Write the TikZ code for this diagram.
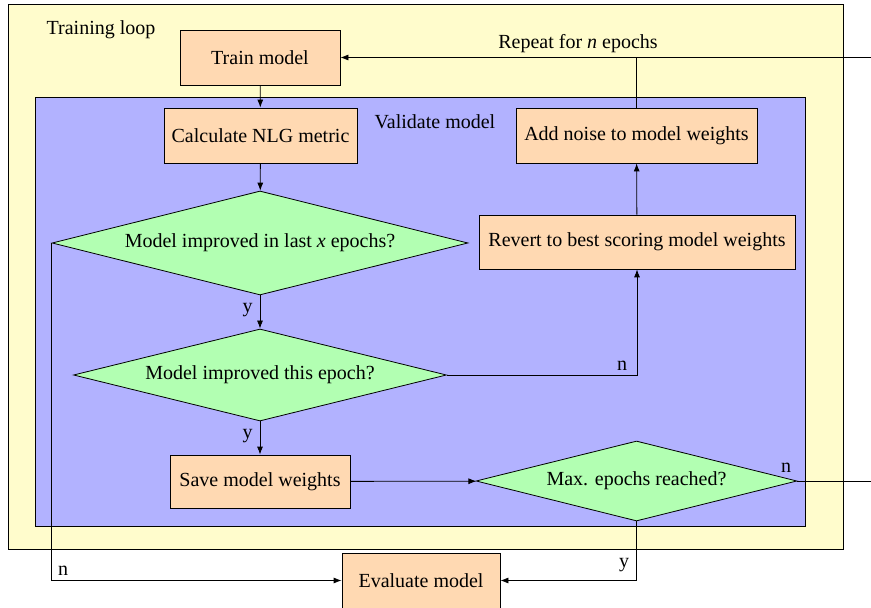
\documentclass[tikz,border=0pt]{standalone}
\usepackage{fontspec}
\setmainfont{Liberation Serif}
\usetikzlibrary{shapes.geometric,arrows.meta}
\begin{document}
\begin{tikzpicture}[x=0.5pt,y=-0.5pt,
  box/.style={draw, fill=orange!30, inner sep=0pt, minimum width=#1, minimum height=27.5pt, align=center},
  dec/.style={draw, fill=green!30, shape=diamond, aspect=4, inner sep=0pt},
  line/.style={draw, line width=0.4pt},
  arr/.style={line, -{Latex[length=4pt,width=3pt]}},
  lbl/.style={inner sep=1pt}]
\useasboundingbox (0,0) rectangle (871,608);
% containers
\path[draw, fill=yellow!20] (8,4) rectangle (843.5,549.5);
\path[draw, fill=blue!30] (35,97) rectangle (805,526);
\node[lbl] (tl) at (101,30) {Training loop};
\node[lbl] (vm) at (435,122) {Validate model};
% nodes
\node[box=80pt] (train) at (260,57.5) {Train model};
\node[box=96.5pt] (calc) at (260.5,135.5) {Calculate NLG metric};
\node[dec, minimum width=208pt, minimum height=52pt] (d1) at (260,243) {Model improved in last \textit{x} epochs?};
\node[dec, minimum width=186.5pt, minimum height=46pt] (d2) at (260,375) {Model improved this epoch?};
\node[box=90pt, minimum height=26.5pt] (save) at (260,481.5) {Save model weights};
\node[dec, minimum width=160.5pt, minimum height=40pt] (d3) at (636.5,481) {Max. epochs reached?};
\node[box=158pt, minimum height=27pt] (revert) at (637,242) {Revert to best scoring model weights};
\node[box=120.5pt] (noise) at (636.5,135.5) {Add noise to model weights};
\node[box=79pt] (eval) at (421,580.5) {Evaluate model};
\node[lbl] (rep) at (578,44) {Repeat for \textit{n} epochs};
% free ends
\coordinate (eR) at (871,57.5);
\coordinate (eD) at (871,481);
% connectors
\draw[arr] (train) -- (calc);
\draw[arr] (calc) -- (d1);
\draw[arr] (d1) -- node[lbl, left=2.5pt, pos=0.45] {y} (d2);
\draw[arr] (d2) -- node[lbl, left=2.5pt, pos=0.45] {y} (save);
\draw[arr] (save) -- (d3);
\draw[arr] (d2.east) -| node[lbl, above left, pos=0.48, yshift=1pt] {n} (revert.south);
\draw[arr] (revert) -- (noise);
\draw[arr] (noise.north) |- (train.east);
\draw[line] (eR) -- (noise.north |- eR);
\draw[line] (d3.east) -- (eD);
\node[lbl] at (786,468) {n};
\draw[arr] (d1.west) |- node[lbl, above right, pos=0.5, xshift=2pt, yshift=1.5pt] {n} (eval.west);
\draw[arr] (d3.south) |- node[lbl, above left, pos=0.5, xshift=-2.5pt, yshift=3pt] {y} (eval.east);
\end{tikzpicture}
\end{document}
